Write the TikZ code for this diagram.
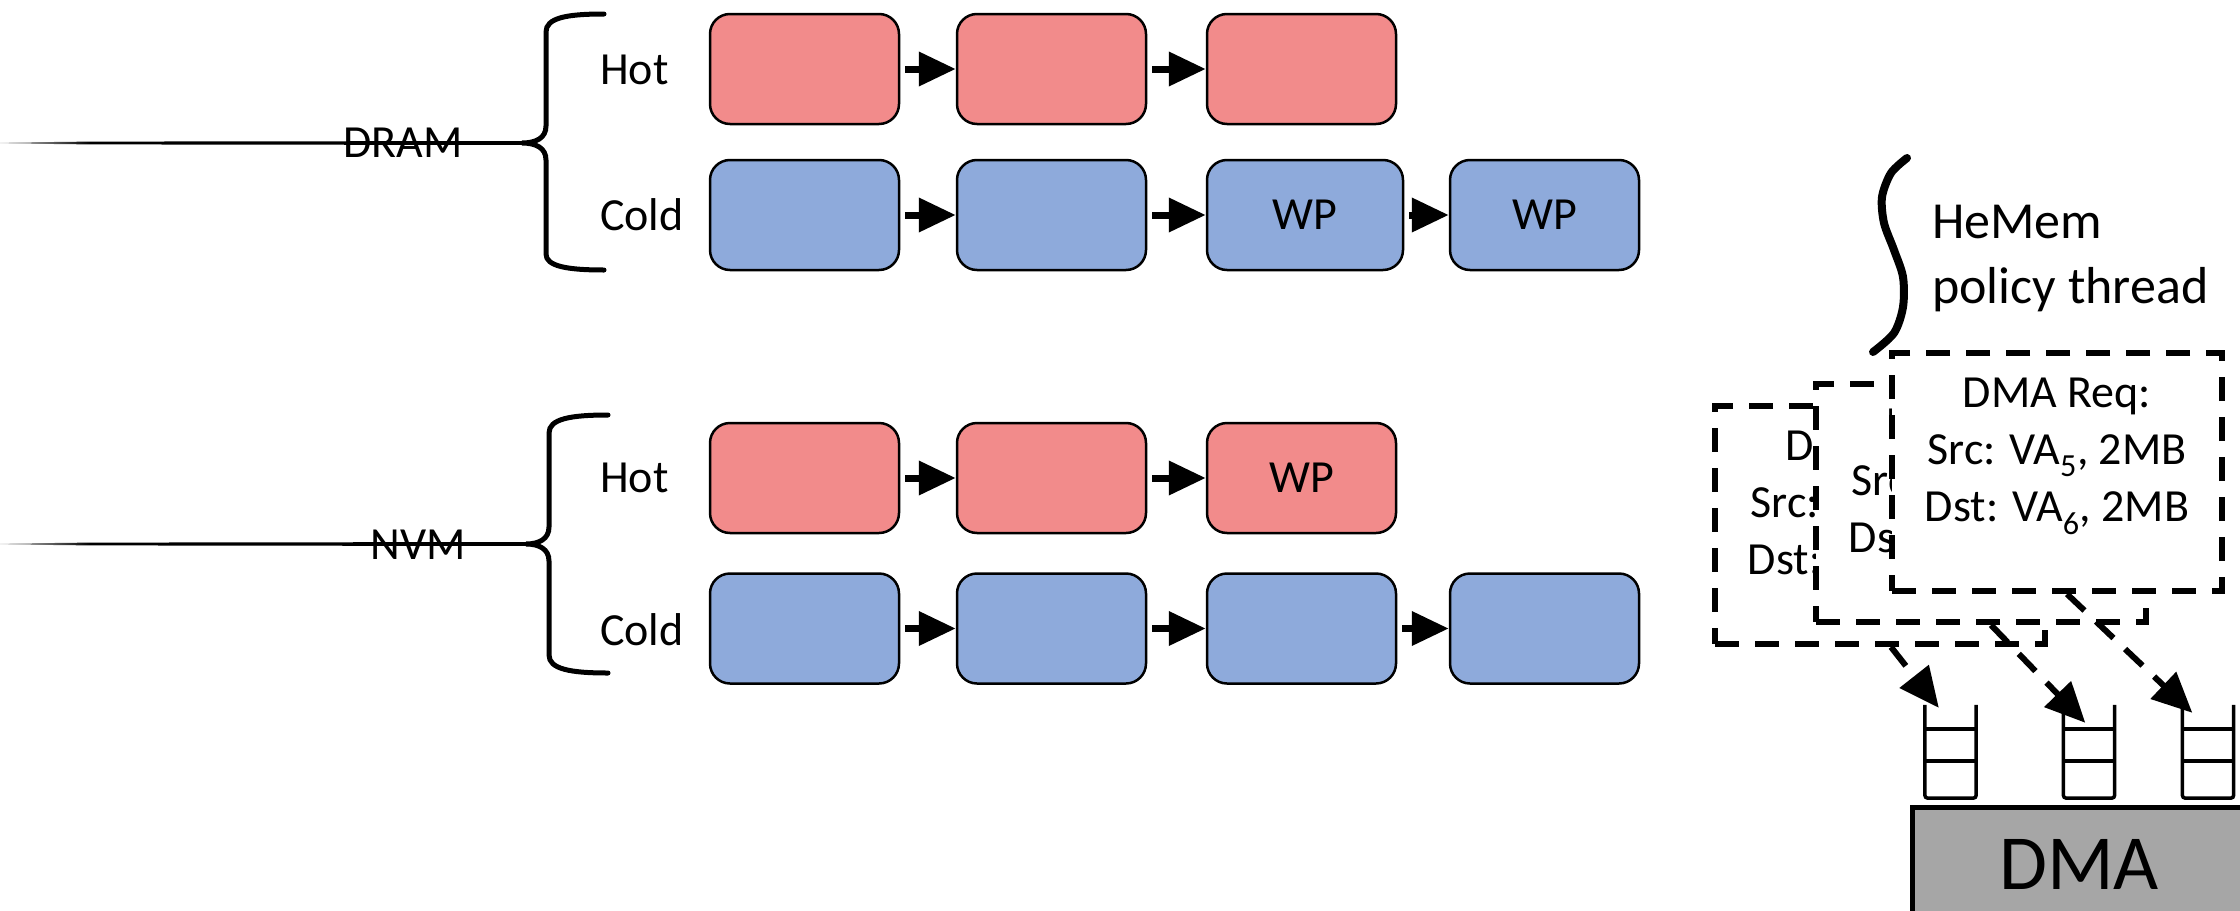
\documentclass[tikz,border=0pt]{standalone}
\usepackage{fontspec}
\setmainfont{Carlito}
\usetikzlibrary{arrows.meta,calc}
\definecolor{hotred}{HTML}{F28B8B}
\definecolor{coldblue}{HTML}{8EAADB}
\definecolor{dmagray}{HTML}{A6A6A6}
\begin{document}
\begin{tikzpicture}[x=1pt,y=-1pt,
 pagebox/.style={draw=black, line width=2.5pt, rounded corners=20pt, minimum width=189pt, minimum height=110pt, inner sep=0pt, font=\fontsize{46}{55}\selectfont},
 hotpage/.style={pagebox, fill=hotred},
 coldpage/.style={pagebox, fill=coldblue},
 lbl/.style={font=\fontsize{46}{55}\selectfont, inner sep=0pt},
 link/.style={line width=7pt, -{Triangle[length=37pt,width=33pt]}, shorten <=5pt},
 bracepath/.style={line width=5pt, line cap=round},
 reqbox/.style={draw, fill=white, line width=6pt, dash pattern=on 24pt off 16pt, minimum width=330pt, minimum height=238pt, inner sep=0pt},
 reqtext/.style={font=\fontsize{46}{57}\selectfont, align=center, inner sep=0pt, anchor=north},
 dashlink/.style={line width=6pt, dash pattern=on 24pt off 16pt, -{Triangle[length=40pt,width=36pt]}},
 qspot/.style={minimum width=51pt, minimum height=93pt, inner sep=0pt},
 qline/.style={line width=3.5pt}
]
\useasboundingbox (0,0) rectangle (2240,910);
\clip (0,0) rectangle (2240,910);

% DRAM section
\shade[left color=gray!30, right color=black] (0,142.6) -- (90,141.6) -- (90,144.4) -- (0,143.4) -- cycle;
\fill (90,141.6) -- (528,141) -- (528,145) -- (90,144.4) -- cycle;
\draw[bracepath] (604,14) .. controls (566,14) and (546,18) .. (546,32) -- (546,126) .. controls (546,138) and (536,143) .. (522,143) .. controls (536,143) and (546,148) .. (546,160) -- (546,254) .. controls (546,266) and (566,270) .. (604,270);
\node[lbl, anchor=east] (dram) at (463,143) {DRAM};
\node[lbl, anchor=west] (dhot) at (600,70) {Hot};
\node[lbl, anchor=west] (dcold) at (600,215) {Cold};

\node[hotpage] (dh1) at (804.5,69) {};
\node[hotpage] (dh2) at (1051.5,69) {};
\node[hotpage] (dh3) at (1301.5,69) {};
\node[coldpage] (dc1) at (804.5,215) {};
\node[coldpage] (dc2) at (1051.5,215) {};
\node[coldpage, minimum width=196pt] (dc3) at (1305,215) {WP};
\node[coldpage] (dc4) at (1544.5,215) {WP};
\draw[link] (dh1) -- (dh2);
\draw[link] (dh2) -- (dh3);
\draw[link] (dc1) -- (dc2);
\draw[link] (dc2) -- (dc3);
\draw[link] (dc3) -- (dc4);

% NVM section
\shade[left color=gray!30, right color=black] (0,543.6) -- (90,542.6) -- (90,545.4) -- (0,544.4) -- cycle;
\fill (90,542.6) -- (532,542) -- (532,546) -- (90,545.4) -- cycle;
\draw[bracepath] (608,415) .. controls (570,415) and (549,419) .. (549,433) -- (549,527) .. controls (549,539) and (539,544) .. (526,544) .. controls (539,544) and (549,549) .. (549,561) -- (549,655) .. controls (549,669) and (570,673) .. (608,673);
\node[lbl, anchor=east] (nvm) at (466,545) {NVM};
\node[lbl, anchor=west] (nhot) at (600,478) {Hot};
\node[lbl, anchor=west] (ncold) at (600,630) {Cold};

\node[hotpage] (nh1) at (804.5,478) {};
\node[hotpage] (nh2) at (1051.5,478) {};
\node[hotpage] (nh3) at (1301.5,478) {WP};
\node[coldpage] (nc1) at (804.5,628.5) {};
\node[coldpage] (nc2) at (1051.5,628.5) {};
\node[coldpage] (nc3) at (1301.5,628.5) {};
\node[coldpage] (nc4) at (1544.5,628.5) {};
\draw[link] (nh1) -- (nh2);
\draw[link] (nh2) -- (nh3);
\draw[link] (nc1) -- (nc2);
\draw[link] (nc2) -- (nc3);
\draw[link] (nc3) -- (nc4);

% HeMem policy thread
\draw[line width=8pt, line cap=round] plot[smooth] coordinates {(1907,158) (1891,173) (1882,197) (1884,223) (1894,250) (1903,277) (1903,307) (1894,333) (1873,352)};
\node[font=\fontsize{52}{65}\selectfont, align=left, anchor=north west, inner sep=0pt] (hemem) at (1932,205) {HeMem\\policy thread};

% DMA request boxes (back to front)
\node[reqbox] (boxC) at (1880,525) {};
\node[reqtext] (txtC) at ($(boxC.north)+(0,28)$) {DMA Req:\\Src: VA\textsubscript{5}, 2MB\\Dst: VA\textsubscript{6}, 2MB};
\node[reqbox] (boxB) at (1981,503) {};
\node[reqtext] (txtB) at ($(boxB.north)+(0,28)$) {DMA Req:\\Src: VA\textsubscript{5}, 2MB\\Dst: VA\textsubscript{6}, 2MB};
\node[reqbox] (boxA) at (2057,472) {};
\node[reqtext] (txtA) at ($(boxA.north)+(0,28)$) {DMA Req:\\Src: VA\textsubscript{5}, 2MB\\Dst: VA\textsubscript{6}, 2MB};

% queues
\node[qspot] (q1) at (1950.5,751.5) {};
\node[qspot] (q2) at (2089,751.5) {};
\node[qspot] (q3) at (2208,751.5) {};
\foreach \q in {q1,q2,q3}{
  \draw[qline, rounded corners=3pt] (\q.north west) -- (\q.south west) -- (\q.south east) -- (\q.north east);
  \draw[qline] ($(\q.north west)+(0,24)$) -- ($(\q.north east)+(0,24)$);
  \draw[qline] ($(\q.north west)+(0,56)$) -- ($(\q.north east)+(0,56)$);
}

\draw[dashlink] ($(boxC.south)+(11,0)$) -- ($(q1.north west)+(14,3)$);
\draw[dashlink] ($(boxB.south)+(10,0)$) -- ($(q2.north west)+(22,18)$);
\draw[dashlink] ($(boxA.south)+(10,0)$) -- ($(q3.north west)+(10,8)$);

% DMA engine
\node[draw, line width=5pt, fill=dmagray, minimum width=334pt, minimum height=114pt, inner sep=0pt, font=\fontsize{78}{90}\selectfont] (dma) at (2079,864) {DMA};
\end{tikzpicture}
\end{document}
